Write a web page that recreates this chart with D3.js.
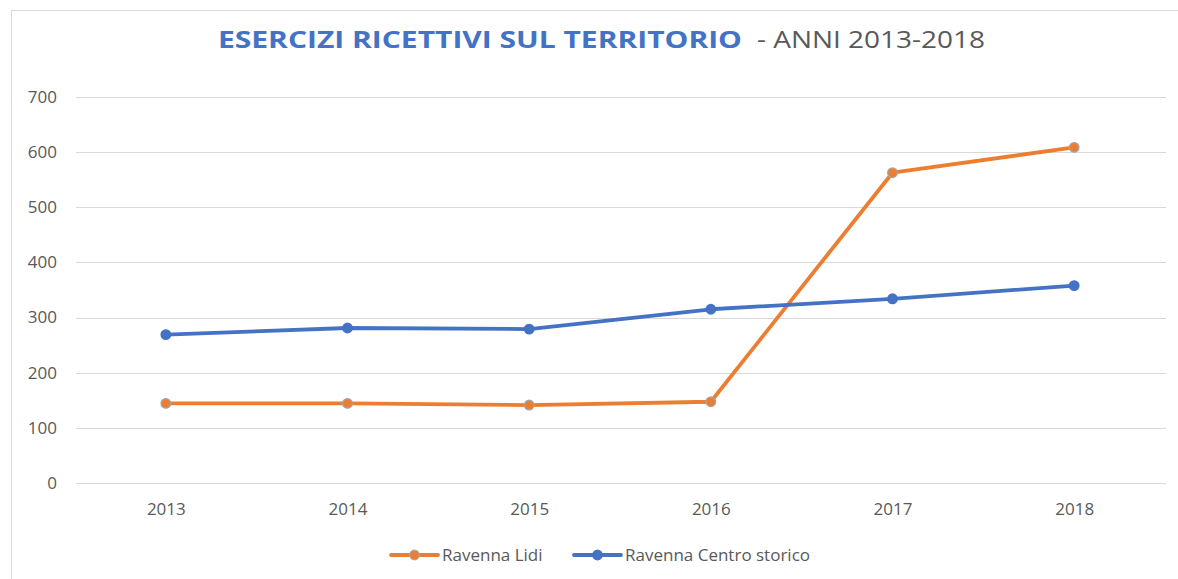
<!DOCTYPE html>
<html>
<head>
<meta charset="utf-8">
<script src="https://cdn.jsdelivr.net/npm/d3@7"></script>
<style>
  body { margin: 0; background: #fff; }
  text { font-family: "Open Sans", "Noto Sans", sans-serif; }
</style>
</head>
<body>
<svg id="canvas" width="1178" height="579"></svg>
<script>
const years = ["2013", "2014", "2015", "2016", "2017", "2018"];
const lidi = [144, 144, 141, 147, 563, 609];
const centro = [269, 281, 279, 315, 334, 358];
const yTicks = [0, 100, 200, 300, 400, 500, 600, 700];

const series = [
  { name: "Ravenna Lidi", values: lidi, color: "#ED7D31", markerStroke: "#A5A5A5" },
  { name: "Ravenna Centro storico", values: centro, color: "#4472C4", markerStroke: "#4472C4" },
];

const canvas = d3.select("#canvas");
const width = +canvas.attr("width");
const height = +canvas.attr("height");

// outer chart frame (right/bottom edges are cut off in the picture)
canvas.append("rect")
  .attr("x", 11.5).attr("y", 10.5)
  .attr("width", width + 20).attr("height", height + 20)
  .attr("fill", "#fff")
  .attr("stroke", "#D9D9D9")
  .attr("stroke-width", 1);

const x = d3.scalePoint().domain(years).range([75, 1165]).padding(0.5);
const y = d3.scaleLinear().domain([0, 700]).range([482.7, 97.3]);

// gridlines
canvas.append("g")
  .selectAll("line")
  .data(yTicks)
  .join("line")
  .attr("x1", 76).attr("x2", 1166)
  .attr("y1", (d) => Math.round(y(d)) + 0.5)
  .attr("y2", (d) => Math.round(y(d)) + 0.5)
  .attr("stroke", "#D9D9D9")
  .attr("stroke-width", 1);

// y axis labels
const yAxis = canvas.append("g")
  .attr("transform", "translate(57,0)")
  .call(d3.axisLeft(y).tickValues(yTicks).tickSize(0).tickPadding(0));
yAxis.select(".domain").remove();
yAxis.selectAll("text")
  .attr("font-size", 17)
  .attr("fill", "#595959")
  .attr("font-family", "'Open Sans', sans-serif");

// x axis labels
const xAxis = canvas.append("g")
  .attr("transform", "translate(0,503)")
  .call(d3.axisBottom(x).tickSize(0).tickPadding(0));
xAxis.select(".domain").remove();
xAxis.selectAll("text")
  .attr("font-size", 17)
  .attr("fill", "#595959")
  .attr("font-family", "'Open Sans', sans-serif");

const line = d3.line()
  .x((d, i) => x(years[i]))
  .y((d) => y(d));

series.forEach((s) => {
  canvas.append("path")
    .datum(s.values)
    .attr("d", line)
    .attr("fill", "none")
    .attr("stroke", s.color)
    .attr("stroke-width", 3.8)
    .attr("stroke-linejoin", "round")
    .attr("stroke-linecap", "round");

  canvas.append("g")
    .selectAll("circle")
    .data(s.values)
    .join("circle")
    .attr("cx", (d, i) => x(years[i]))
    .attr("cy", (d) => y(d))
    .attr("r", 4.8)
    .attr("fill", s.color)
    .attr("stroke", s.markerStroke)
    .attr("stroke-width", 1.3);
});

// title
const title = canvas.append("text")
  .attr("x", 218)
  .attr("y", 48)
  .attr("font-size", 24);
title.append("tspan")
  .attr("fill", "#4472C4")
  .attr("font-weight", "bold")
  .attr("textLength", 524)
  .attr("lengthAdjust", "spacingAndGlyphs")
  .text("ESERCIZI RICETTIVI  SUL TERRITORIO");
title.append("tspan")
  .attr("x", 757)
  .attr("fill", "#595959")
  .attr("textLength", 228)
  .attr("lengthAdjust", "spacingAndGlyphs")
  .text("- ANNI 2013-2018");

// legend
const legendX = [391, 574];
const legend = canvas.append("g")
  .selectAll("g")
  .data(series)
  .join("g")
  .attr("transform", (d, i) => `translate(${legendX[i]},555)`);
legend.append("line")
  .attr("x1", 0).attr("x2", 47)
  .attr("y1", 0).attr("y2", 0)
  .attr("stroke", (d) => d.color)
  .attr("stroke-width", 3.8)
  .attr("stroke-linecap", "round");
legend.append("circle")
  .attr("cx", 23.5).attr("cy", 0).attr("r", 4.8)
  .attr("fill", (d) => d.color)
  .attr("stroke", (d) => d.markerStroke)
  .attr("stroke-width", 1.3);
legend.append("text")
  .attr("x", 51)
  .attr("y", 0)
  .attr("dy", "0.35em")
  .attr("font-size", 17)
  .attr("fill", "#595959")
  .text((d) => d.name);
</script>
</body>
</html>
